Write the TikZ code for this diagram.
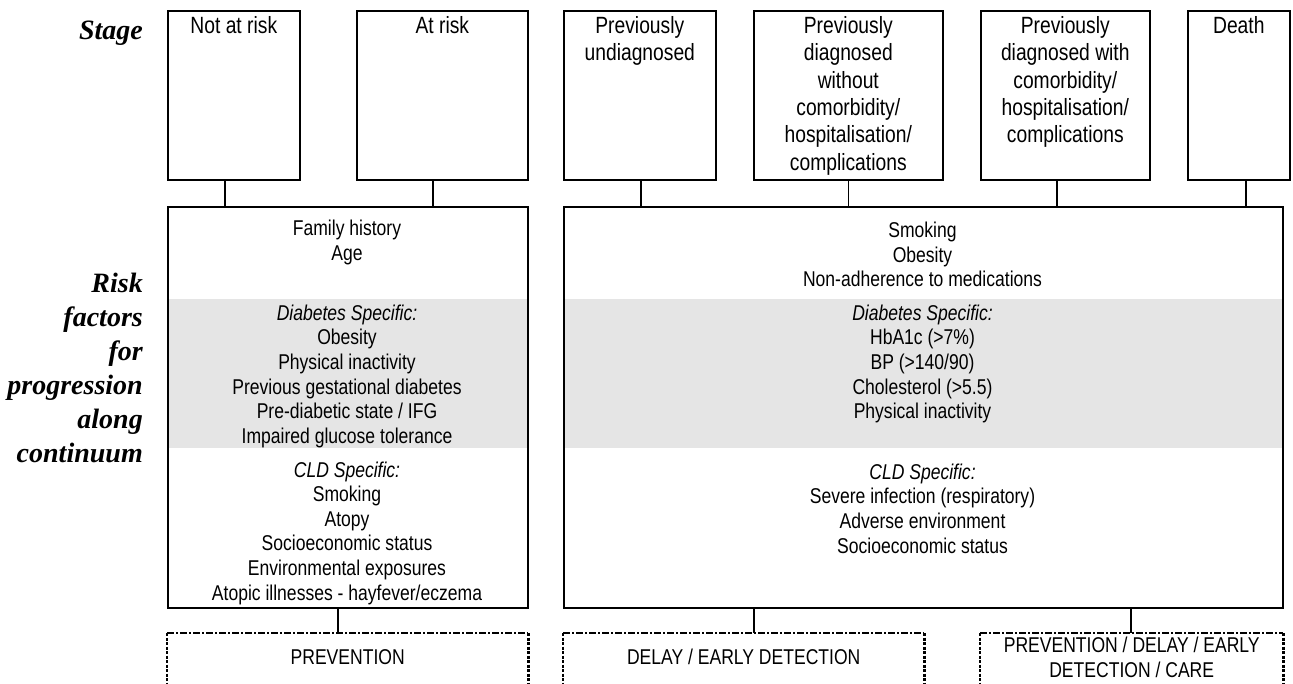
\documentclass[tikz,border=0pt]{standalone}
\usepackage{fontspec}
\setmainfont{Liberation Sans}[FakeStretch=0.82]
\newfontfamily\lblfont{Liberation Serif}
\begin{document}
\begin{tikzpicture}[x=1pt,y=-1pt,
  box/.style={draw,line width=1.6pt,inner sep=0pt,anchor=north west},
  ghost/.style={inner sep=0pt,anchor=north west},
  conn/.style={line width=1.6pt},
  stagetxt/.style={inner sep=0pt,anchor=north,align=center,font=\fontsize{23.5pt}{27.4pt}\selectfont},
  txt/.style={inner sep=0pt,align=center,font=\fontsize{21.4pt}{24.6pt}\selectfont},
  lbl/.style={inner sep=0pt,align=right,anchor=east,font=\lblfont\bfseries\itshape\fontsize{28pt}{34pt}\selectfont},
  band/.style={fill=gray!20},
  dtop/.style={line width=1.4pt,dash pattern=on 7pt off 2pt on 2pt off 2pt},
  dside/.style={line width=2.2pt,dash pattern=on 3pt off 1.5pt}]
\useasboundingbox (0,0) rectangle (1293,684);
\clip (0,0) rectangle (1293,684);
% grey bands
\fill[band] (167,299) rectangle (527,448);
\fill[band] (563,299) rectangle (1282,448);
% stage boxes
\node[box,minimum width=132pt,minimum height=169pt] (s1) at (167,10) {};
\node[box,minimum width=171pt,minimum height=169pt] (s2) at (356,10) {};
\node[box,minimum width=152pt,minimum height=169pt] (s3) at (563,10) {};
\node[box,minimum width=189pt,minimum height=169pt] (s4) at (753,10) {};
\node[box,minimum width=169pt,minimum height=169pt] (s5) at (980,10) {};
\node[box,minimum width=102pt,minimum height=169pt] (s6) at (1187,10) {};
\node[stagetxt] (t1) at ([yshift=-6pt]s1.north) {Not at risk};
\node[stagetxt] (t2) at ([yshift=-6pt]s2.north) {At risk};
\node[stagetxt] (t3) at ([yshift=-6pt]s3.north) {Previously\\undiagnosed};
\node[stagetxt] (t4) at ([yshift=-6pt]s4.north) {Previously\\diagnosed\\without\\comorbidity/\\hospitalisation/\\complications};
\node[stagetxt] (t5) at ([yshift=-6pt]s5.north) {Previously\\diagnosed with\\comorbidity/\\hospitalisation/\\complications};
\node[stagetxt] (t6) at ([yshift=-6pt]s6.north) {Death};
% labels
\node[lbl] (stage) at (143,33) {Stage};
\node[lbl] (risk) at (143,368) {Risk\\factors\\for\\progression\\along\\continuum};
% risk factor boxes
\node[box,minimum width=360pt,minimum height=401pt] (L) at (167,206) {};
\node[box,minimum width=719pt,minimum height=401pt] (R) at (563,206) {};
% connectors stage -> risk
\draw[conn] ([xshift=-9pt]s1.south) -- ([xshift=-9pt]s1.south |- L.north);
\draw[conn] ([xshift=-9.5pt]s2.south) -- ([xshift=-9.5pt]s2.south |- L.north);
\draw[conn] ([xshift=1pt]s3.south) -- ([xshift=1pt]s3.south |- R.north);
\draw[conn] (s4.south) -- (s4.south |- R.north);
\draw[conn] ([xshift=-8.5pt]s5.south) -- ([xshift=-8.5pt]s5.south |- R.north);
\draw[conn] ([xshift=7pt]s6.south) -- ([xshift=7pt]s6.south |- R.north);
% texts in left box
\node[txt] (l1) at (347,242.3) {Family history\\Age};
\node[txt] (l2) at (347,376.3) {\itshape Diabetes Specific:\\Obesity\\Physical inactivity\\Previous gestational diabetes\\Pre-diabetic state / IFG\\Impaired glucose tolerance};
\node[txt] (l3) at (347,533) {\itshape CLD Specific:\\Smoking\\Atopy\\Socioeconomic status\\Environmental exposures\\Atopic illnesses - hayfever/eczema};
% texts in right box
\node[txt] (r1) at (922.5,254.6) {Smoking\\Obesity\\Non-adherence to medications};
\node[txt] (r2) at (922.5,364) {\itshape Diabetes Specific:\\HbA1c (>7\%)\\BP (>140/90)\\Cholesterol (>5.5)\\Physical inactivity};
\node[txt] (r3) at (922.5,508.5) {\itshape CLD Specific:\\Severe infection (respiratory)\\Adverse environment\\Socioeconomic status};
% strategy boxes
\node[ghost,minimum width=361pt,minimum height=80pt] (d1) at (167,633) {};
\node[ghost,minimum width=361pt,minimum height=80pt] (d2) at (563,633) {};
\node[ghost,minimum width=303pt,minimum height=80pt] (d3) at (980,633) {};
\foreach \d in {d1,d2,d3}{
  \draw[dtop] (\d.north west) -- (\d.north east);
  \draw[dside] (\d.north west) -- (\d.south west);
  \draw[dside] (\d.north east) -- (\d.south east);
}
\draw[conn] ([xshift=-10pt]L.south) -- ([xshift=-10pt]L.south |- d1.north);
\draw[conn] ([xshift=-169.5pt]R.south) -- ([xshift=-169.5pt]R.south |- d2.north);
\draw[conn] ([xshift=207.5pt]R.south) -- ([xshift=207.5pt]R.south |- d3.north);
\node[txt] (p1) at ([yshift=-24pt]d1.north) {PREVENTION};
\node[txt] (p2) at ([yshift=-24pt]d2.north) {DELAY / EARLY DETECTION};
\node[txt] (p3) at ([yshift=-24.5pt]d3.north) {PREVENTION / DELAY / EARLY\\DETECTION / CARE};
\end{tikzpicture}
\end{document}
